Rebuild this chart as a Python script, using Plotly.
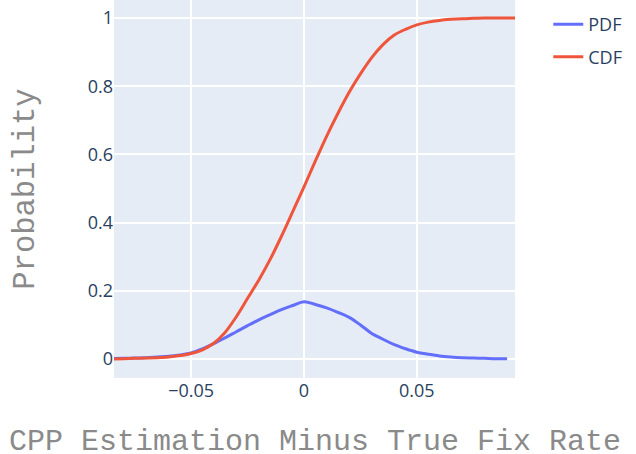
import plotly.graph_objects as go

# PDF of the estimation error (probability per bin)
pdf_x = [-0.085, -0.08, -0.075, -0.07, -0.065, -0.06, -0.055, -0.05, -0.045, -0.04,
         -0.035, -0.03, -0.025, -0.02, -0.015, -0.01, -0.005, 0.0, 0.005, 0.01,
         0.015, 0.02, 0.025, 0.03, 0.035, 0.04, 0.045, 0.05, 0.055, 0.06,
         0.065, 0.07, 0.075, 0.08, 0.085, 0.09]
pdf_y = [0.001, 0.002, 0.003, 0.004, 0.006, 0.008, 0.012, 0.018, 0.03, 0.045,
         0.062, 0.08, 0.098, 0.115, 0.13, 0.145, 0.157, 0.168, 0.16, 0.15,
         0.137, 0.122, 0.1, 0.075, 0.058, 0.042, 0.03, 0.02, 0.014, 0.009,
         0.006, 0.004, 0.003, 0.002, 0.001, 0.001]

# CDF
cdf_x = [-0.085, -0.08, -0.075, -0.07, -0.065, -0.06, -0.055, -0.05, -0.045, -0.04,
         -0.035, -0.03, -0.025, -0.02, -0.015, -0.01, -0.005, 0.0, 0.005, 0.01,
         0.015, 0.02, 0.025, 0.03, 0.035, 0.04, 0.045, 0.05, 0.055, 0.06,
         0.065, 0.07, 0.075, 0.08, 0.085, 0.09, 0.095]
cdf_y = [0.0, 0.001, 0.002, 0.003, 0.004, 0.006, 0.01, 0.016, 0.027, 0.046,
         0.078, 0.124, 0.178, 0.232, 0.292, 0.36, 0.432, 0.505, 0.58, 0.653,
         0.72, 0.782, 0.836, 0.884, 0.922, 0.95, 0.967, 0.98, 0.988, 0.993,
         0.996, 0.998, 0.999, 1.0, 1.0, 1.0, 1.0]

x_ticks = [-0.05, 0, 0.05]
x_ticklabels = ["\u22120.05", "0", "0.05"]
y_ticks = [0, 0.2, 0.4, 0.6, 0.8, 1]
y_ticklabels = ["0", "0.2", "0.4", "0.6", "0.8", "1"]

fig = go.Figure()
fig.add_trace(go.Scatter(x=pdf_x, y=pdf_y, mode="lines", name="PDF", line_shape="spline",
                         legendgroup="a", line=dict(color="#636efa", width=3)))
fig.add_trace(go.Scatter(x=cdf_x, y=cdf_y, mode="lines", name="CDF", line_shape="spline",
                         legendgroup="b", line=dict(color="#ef553b", width=3)))

title_font = dict(family="Courier New, Liberation Mono, monospace", size=30.5, color="#8a8a8a")

fig.update_layout(
    template="plotly",
    width=636, height=454,
    margin=dict(l=114, r=121, t=0, b=76),
    font=dict(size=18, color="#2a3f5f"),
    legend=dict(x=1.28, xanchor="right", y=0.984, tracegroupgap=6, font=dict(size=18)),
    xaxis=dict(range=[-0.0842, 0.0935], tickvals=x_ticks, ticktext=x_ticklabels,
               gridwidth=2, zeroline=False, automargin=False),
    yaxis=dict(range=[-0.0557, 1.0528], tickvals=y_ticks, ticktext=y_ticklabels,
               gridwidth=2, zeroline=False, automargin=False,
               title=dict(text="Probability", font=title_font, standoff=44)),
)

# x title sits lower than the margin allows for an axis title, so place it as a paper annotation
fig.add_annotation(text="CPP Estimation Minus True Fix Rate",
                   font=dict(family="Courier New, Liberation Mono, monospace", size=30, color="#8a8a8a"),
                   xref="paper", yref="paper", x=0.5, y=0, yanchor="middle",
                   yshift=-64, borderpad=0, showarrow=False)

# drop the browser's default body margin so the figure sits at the page corner
fig.write_html("out.html", config={"displayModeBar": False},
               post_script="document.body.style.margin='0px';")
